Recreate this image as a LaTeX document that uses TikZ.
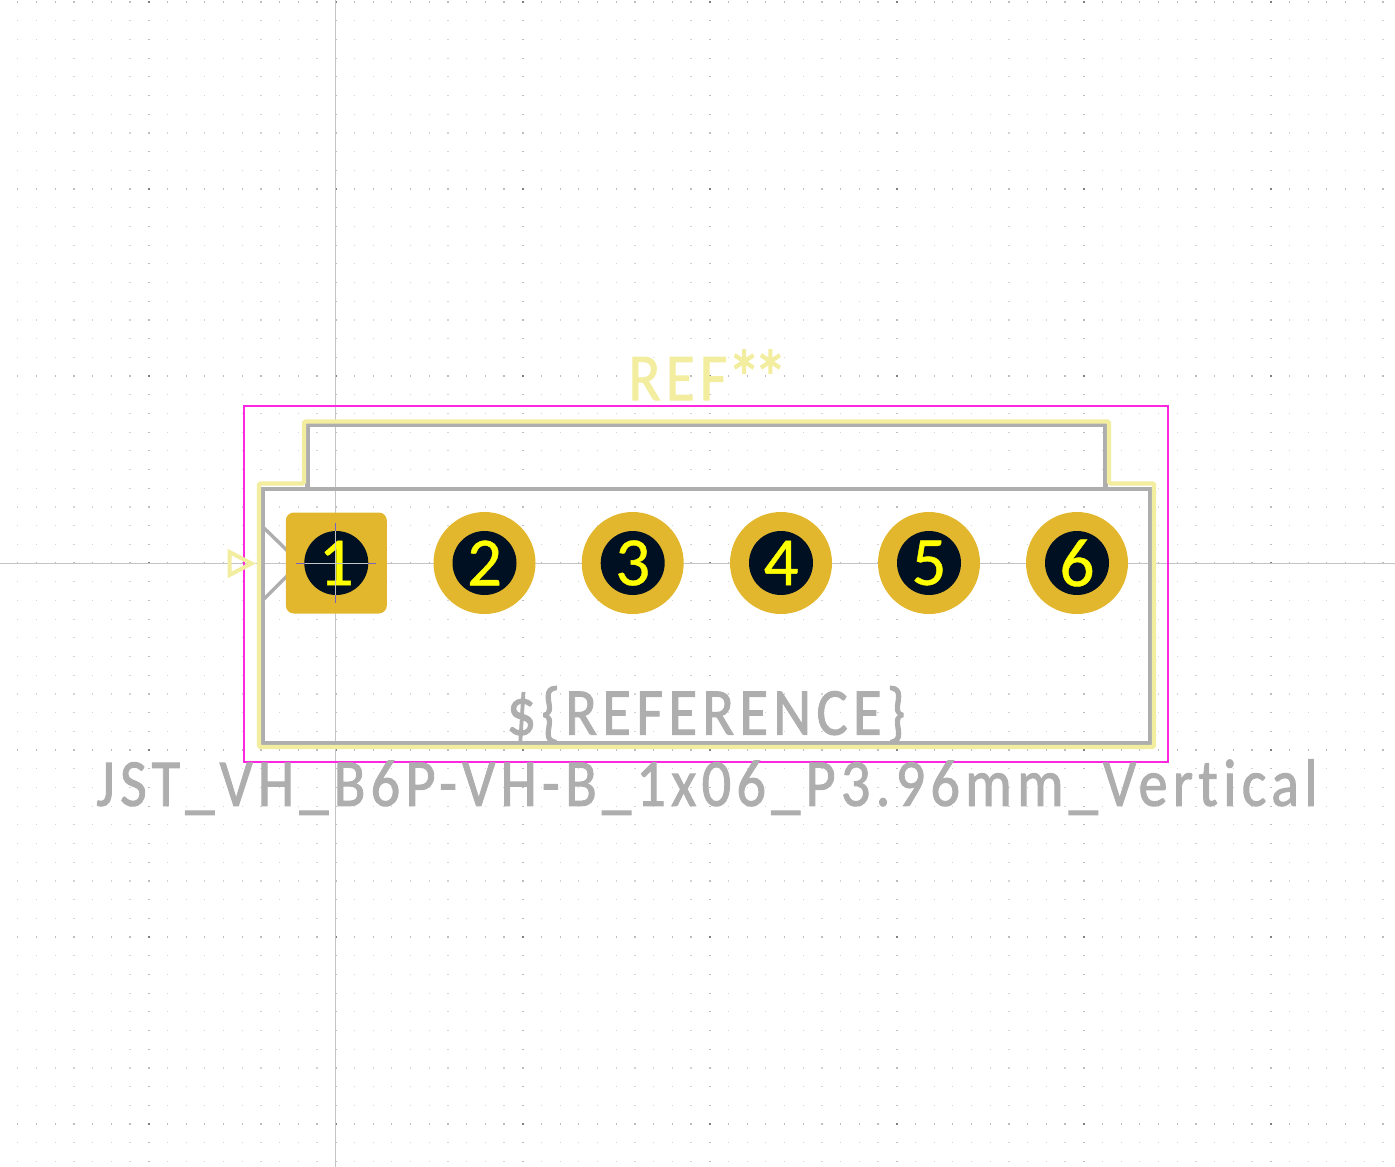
\documentclass[tikz,border=0pt]{standalone}
\usepackage{fontspec}
\setmainfont{DejaVu Sans}
\newfontfamily\strokefont[LetterSpace=9,FakeBold=1.5,Ligatures=NoCommon]{Carlito}
\newfontfamily\digitfont[FakeBold=0.6]{Carlito}
\usetikzlibrary{calc}

\definecolor{silkcol}{HTML}{F3EDA0}
\definecolor{fabcol}{HTML}{AEAEAE}
\definecolor{courtcol}{HTML}{FF26E2}
\definecolor{padcol}{HTML}{E2B72D}
\definecolor{holecol}{HTML}{001023}
\definecolor{numcol}{HTML}{FFFF00}
\definecolor{axiscol}{HTML}{C4C4C4}
\definecolor{crosscol}{HTML}{7462C4}

\tikzset{
  padhole/.style={circle,fill=holecol,inner sep=0pt,minimum size=64pt,text=numcol,font=\digitfont\fontsize{69}{69}\selectfont},
  padround/.style={circle,fill=padcol,inner sep=0pt,minimum size=102pt},
  padsquare/.style={rectangle,rounded corners=8pt,fill=padcol,inner sep=0pt,minimum size=101pt},
  silkline/.style={draw=silkcol,line width=4.4pt,rounded corners=1.5pt},
  fabline/.style={draw=fabcol,line width=4.5pt},
  stroketext/.style={inner sep=0pt,font=\strokefont\fontsize{67}{67}\selectfont}
}

\begin{document}
\begin{tikzpicture}[x=1pt,y=-1pt]
\useasboundingbox (0,0) rectangle (1395,1167);

% Grid dots
\foreach \i in {-17,...,56}
  \foreach \j in {-30,...,32}
    \fill[black!17] ({335.7+18.7*\i-0.6},{563+18.7*\j-0.6}) rectangle ++(1.2,1.2);
\foreach \i in {-10,0,10,20,30,40,50}
  \foreach \j in {-30,...,32}
    \fill[black!26] ({335.7+18.7*\i-1},{563+18.7*\j-0.6}) rectangle ++(2,1.2);
\foreach \i in {-17,...,56}
  \foreach \j in {-30,-20,-10,0,10,20,30}
    \fill[black!26] ({335.7+18.7*\i-0.6},{563+18.7*\j-1}) rectangle ++(1.2,2);
\foreach \i in {-10,0,10,20,30,40,50}
  \foreach \j in {-30,-20,-10,0,10,20,30}
    \fill[black!50] ({335.7+18.7*\i-1},{563+18.7*\j-1}) rectangle ++(2,2);

% Axes
\draw[axiscol,line width=1pt] (335.5,0)--(335.5,1167);
\draw[axiscol,line width=1pt] (0,563)--(1395,563);

% Courtyard
\draw[courtcol,line width=2.4pt] (244,406) rectangle (1168,762);

% Fabrication outline
\draw[fabline] (262.7,489) rectangle (1150.5,743.5);
\draw[fabline] (307.7,489)--(307.7,424.7)--(1105.3,424.7)--(1105.3,489);
\draw[fabcol,line width=3.4pt] (263,527)--(300,563)--(263,600);

% Fabrication reference
\node[stroketext,text=fabcol,xscale=0.875] (fabref) at (706,715) {\$\{REFERENCE\}};

% Silkscreen outline
\draw[silkline] (304,483.5)--(304,421.5)--(1109,421.5)--(1109,483.5)--(1154,483.5)--(1154,747)--(259,747)--(259,483.5)--cycle;
\draw[silkcol,line width=4pt,line join=miter] (229.5,552)--(251.5,563.5)--(229.5,575)--cycle;

% Pads
\node[padsquare] (pada) at (336.3,563) {};
\foreach \name/\x in {b/484.5,c/632.7,d/781,e/929,f/1077}
  \node[padround] (pad\name) at (\x,563) {};
\foreach \name/\x/\num in {a/336.3/1,b/484.5/2,c/632.7/3,d/781/4,e/929/5,f/1077/6}
  \node[padhole] (hole\name) at (\x,563) {\num};

% Pin one cross
\draw[crosscol,line width=1pt] (296,563)--(376,563);
\draw[crosscol,line width=1pt] (335.5,523)--(335.5,603);
\draw[axiscol,line width=1pt] (304.5,563)--(368,563);
\draw[axiscol,line width=1pt] (335.5,531)--(335.5,595);

% Texts
\node[stroketext,text=silkcol,xscale=0.88,anchor=base] (refdes) at (708,400) {REF{\fontsize{78}{78}\selectfont\raisebox{-5pt}{*\kern-9pt*}}};
\node[stroketext,text=fabcol,xscale=0.87] (valuetext) at (707,787) {JST\_VH\_B6P-VH-B\_1x06\_P3.96mm\_Vertical};

\end{tikzpicture}
\end{document}
